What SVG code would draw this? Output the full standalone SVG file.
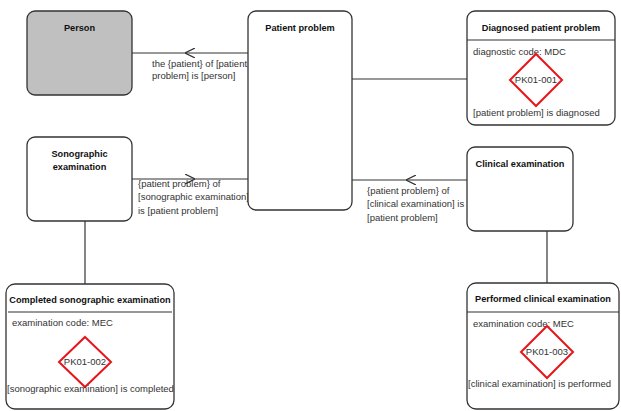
<svg xmlns="http://www.w3.org/2000/svg" width="621" height="411" viewBox="0 0 621 411">
<style>
.box{fill:#fff;stroke:#333;stroke-width:1.3}
.gray{fill:#c0c0c0}
.ln{fill:none;stroke:#333;stroke-width:1.2}
.dm{fill:#fff;stroke:#e8141a;stroke-width:2}
.t{font-family:"Liberation Sans",Arial,sans-serif;font-size:9.5px;fill:#333}
.b{font-family:"Liberation Sans",Arial,sans-serif;font-size:9.2px;font-weight:bold;fill:#111}
.c{text-anchor:middle}
</style>
<defs>
<marker id="open" viewBox="0 0 10 10" refX="10" refY="5" markerWidth="10" markerHeight="10" markerUnits="userSpaceOnUse" orient="auto">
<path d="M0,0 L10,5 L0,10" fill="none" stroke="#333" stroke-width="1.2"/>
</marker>
</defs>
<g id="connectors">
<path class="ln" d="M248,53 L185,53" marker-end="url(#open)"/>
<path class="ln" d="M185,53 L132,53"/>
<path class="ln" d="M132,179 L195,179" marker-end="url(#open)"/>
<path class="ln" d="M195,179 L248,179"/>
<path class="ln" d="M467,180 L406,180" marker-end="url(#open)"/>
<path class="ln" d="M406,180 L352,180"/>
<path class="ln" d="M352,79 L510,79"/>
<path class="ln" d="M85,221 L85,337"/>
<path class="ln" d="M547,231 L547,326"/>
<text class="t" x="152" y="67">the {patient} of [patient</text>
<text class="t" x="152" y="79">problem] is [person]</text>
<text class="t" x="138" y="187">{patient problem} of</text>
<text class="t" x="138" y="200">[sonographic examination]</text>
<text class="t" x="138" y="214">is [patient problem]</text>
<text class="t" x="367" y="194">{patient problem} of</text>
<text class="t" x="367" y="207">[clinical examination] is</text>
<text class="t" x="367" y="221">[patient problem]</text>
</g>
<g id="person">
<rect class="box gray" x="27" y="11" width="105" height="84" rx="8"/>
<text class="b c" x="79.5" y="31">Person</text>
</g>
<g id="patient-problem">
<rect class="box" x="248" y="11" width="104" height="199" rx="8"/>
<text class="b c" x="300" y="31">Patient problem</text>
</g>
<g id="diagnosed-patient-problem">
<rect class="box" x="467" y="11" width="148" height="114" rx="8"/>
<text class="b c" x="541" y="31">Diagnosed patient problem</text>
<line class="ln" x1="467" y1="40" x2="615" y2="40"/>
<text class="t" x="473" y="55">diagnostic code: MDC</text>
<polygon class="dm" points="536,54 562,80 536,106 510,80"/>
<text class="t c" x="536" y="83">PK01-001</text>
<text class="t" x="473" y="116">[patient problem] is diagnosed</text>
</g>
<g id="sonographic-examination">
<rect class="box" x="27" y="137" width="105" height="84" rx="8"/>
<text class="b c" x="79.5" y="157">Sonographic</text>
<text class="b c" x="79.5" y="170">examination</text>
</g>
<g id="clinical-examination">
<rect class="box" x="467" y="147" width="106" height="84" rx="8"/>
<text class="b c" x="520" y="167">Clinical examination</text>
</g>
<g id="completed-sonographic-examination">
<rect class="box" x="6" y="284" width="168" height="125" rx="9"/>
<text class="b c" x="90" y="303">Completed sonographic examination</text>
<line class="ln" x1="8" y1="312" x2="172" y2="312"/>
<text class="t" x="12" y="326">examination code: MEC</text>
<polygon class="dm" points="85,337 111,362 85,387 59,362"/>
<text class="t c" x="85" y="365">PK01-002</text>
<text class="t" x="7" y="392">[sonographic examination] is completed</text>
</g>
<g id="performed-clinical-examination">
<rect class="box" x="467" y="283" width="152" height="126" rx="9"/>
<text class="b c" x="543" y="302">Performed clinical examination</text>
<line class="ln" x1="467" y1="312" x2="619" y2="312"/>
<text class="t" x="473" y="327">examination code: MEC</text>
<polygon class="dm" points="547,326 573,352 547,378 521,352"/>
<text class="t c" x="547" y="355">PK01-003</text>
<text class="t" x="468" y="387">[clinical examination] is performed</text>
</g>
</svg>
